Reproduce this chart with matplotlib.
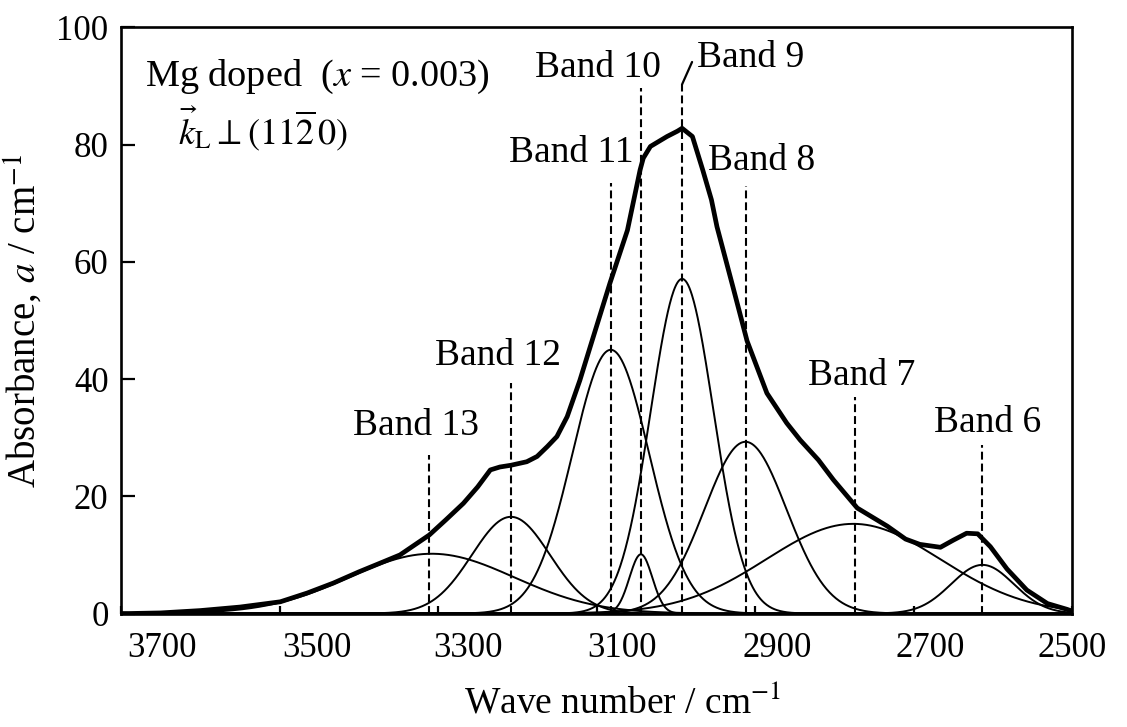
import numpy as np
import matplotlib
matplotlib.use("Agg")
import matplotlib.pyplot as plt
from matplotlib.transforms import ScaledTranslation

# ---------------- data ----------------
# measured (total) absorption spectrum, read from the picture
total_wn = [3700, 3689, 3650, 3600, 3550, 3499, 3465, 3432, 3400, 3373, 3348, 3311,
            3290, 3268, 3250, 3234, 3222, 3208, 3188, 3175, 3162, 3150, 3137, 3121,
            3108, 3083, 3061, 3045, 3041, 3032, 3011, 2998, 2992, 2979, 2966, 2955,
            2948, 2928, 2910, 2885, 2860, 2843, 2820, 2801, 2771, 2733, 2710, 2692,
            2666, 2650, 2633, 2619, 2603, 2582, 2557, 2531, 2506, 2500]
total_abs = [0.0, 0.0, 0.1, 0.5, 1.1, 2.0, 3.5, 5.2, 7.1, 8.6, 10.0, 13.4,
             16.0, 18.8, 21.6, 24.5, 25.0, 25.3, 25.9, 26.8, 28.5, 30.2, 33.6, 39.8,
             45.5, 56.4, 65.4, 75.7, 77.7, 79.7, 81.4, 82.3, 82.8, 81.4, 75.7, 70.6,
             66.0, 55.8, 46.5, 37.6, 32.5, 29.6, 26.2, 22.8, 18.0, 14.9, 12.7, 11.8,
             11.3, 12.5, 13.7, 13.6, 11.4, 7.6, 4.0, 1.7, 0.7, 0.4]

# fitted Gaussian bands (centre / cm^-1, peak height / cm^-1, FWHM / cm^-1)
band_names = ["Band 13", "Band 12", "Band 11", "Band 10", "Band 9", "Band 8", "Band 7", "Band 6"]
band_centers = [3308, 3208, 3082, 3044, 2992, 2912, 2776, 2613]
band_heights = [10.2, 16.5, 45.0, 10.1, 57.1, 29.3, 15.3, 8.3]
band_fwhm = [245, 116, 114, 34, 93, 122, 258, 93]
marker_wn = [3311, 3208, 3082, 3044, 2992, 2912, 2774, 2613]
marker_tops = [27.0, 39.3, 73.5, 89.7, 90.3, 73.0, 37.0, 28.7]

xticks = [3700, 3500, 3300, 3100, 2900, 2700, 2500]
yticks = [0, 20, 40, 60, 80, 100]

# ---------------- layout ----------------
label_pos = [(3328, 30.5), (3224, 42.4), (3132, 77.0), (3098, 91.6),
             (2905, 93.3), (2892, 75.7), (2765, 39.0), (2606, 31.0)]
xlabel_offsets_px = [41, 37, 30, 25, 22, 17, 0]

plt.rcParams['font.family'] = ['Liberation Serif', 'DejaVu Serif']
plt.rcParams['mathtext.fontset'] = 'stix'

fig = plt.figure(figsize=(11.27, 7.27), dpi=100)
ax = fig.add_axes([0.1074, 0.1561, 0.8438, 0.8061])

# components
x = np.linspace(3700, 2500, 1500)
for c, h, w in zip(band_centers, band_heights, band_fwhm):
    sigma = w / 2.3548
    ax.plot(x, h * np.exp(-0.5 * ((x - c) / sigma) ** 2), color='black', lw=1.4,
            solid_joinstyle='round')

# total spectrum
ax.plot(total_wn, total_abs, color='black', lw=3.4, solid_joinstyle='round',
        solid_capstyle='round', zorder=5)

# dashed band markers
ax.vlines(marker_wn, 0, marker_tops, colors='black', linestyles=(0, (3.8, 1.9)), lw=1.5)

# band labels
for name, (lx, ly), mx, mt in zip(band_names, label_pos, marker_wn, marker_tops):
    if name == "Band 9":
        ax.annotate(name, xy=(mx, mt), xytext=(lx, ly), textcoords='data',
                    ha='center', va='baseline', fontsize=27,
                    arrowprops=dict(arrowstyle='-', color='black', lw=1.6,
                                    shrinkA=0, shrinkB=0, relpos=(-0.05, 0.37)))
    else:
        ax.text(lx, ly, name, ha='center', va='baseline', fontsize=27)

# sample description
ax.text(0.025, 0.900, r"Mg doped  ($x$ = 0.003)", transform=ax.transAxes,
        fontsize=27.5, ha='left', va='baseline')
ax.text(0.060, 0.800, r"$\vec{k}_{\mathrm{L}}\perp(11\overline{2}\,0)$", transform=ax.transAxes,
        fontsize=26, ha='left', va='baseline')

ax.set_xlim(3700, 2500)
ax.set_ylim(0, 100)
ax.set_xticks(xticks)
ax.set_yticks(yticks)
ax.tick_params(axis='y', direction='in', length=10, width=1.6, labelsize=25, pad=9)
ax.tick_params(axis='x', direction='in', length=6, width=1.6, labelsize=25, pad=13)
for sp in ax.spines.values():
    sp.set_linewidth(1.9)

for lab, dx in zip(ax.get_xticklabels(), xlabel_offsets_px):
    lab.set_transform(lab.get_transform() + ScaledTranslation(dx / 100, 0, fig.dpi_scale_trans))

ax.set_xlabel(r"Wave number / cm$^{-1}$", fontsize=27, labelpad=15)
ax.xaxis.label.set_x(0.527)
ax.set_ylabel(r"Absorbance, $a$ / cm$^{-1}$", fontsize=28, labelpad=8)

fig.savefig("out.png", dpi=100)
